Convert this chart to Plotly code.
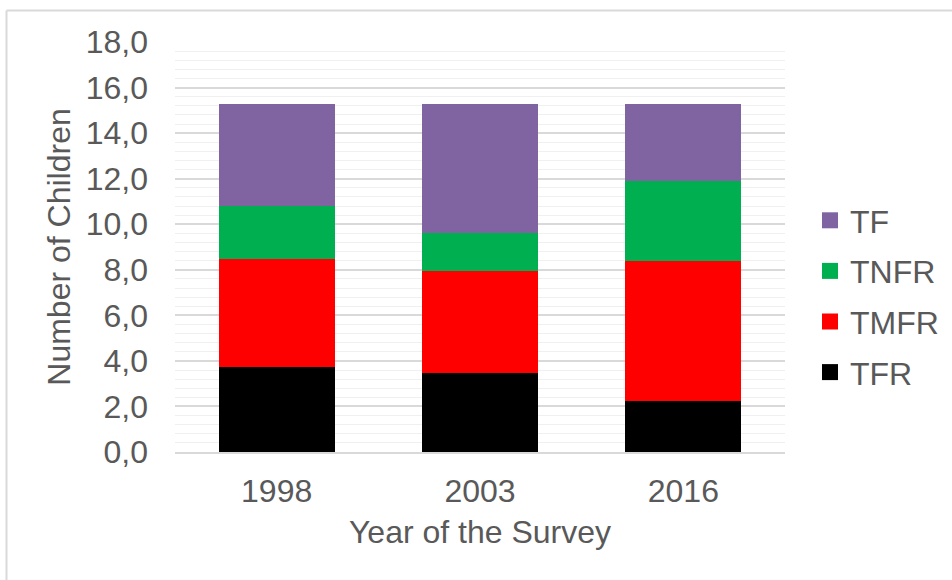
import plotly.graph_objects as go

years = ["1998", "2003", "2016"]
tfr = [3.75, 3.46, 2.26]
tmfr = [4.74, 4.49, 6.14]
tnfr = [2.29, 1.65, 3.49]
tf = [4.52, 5.70, 3.41]

series = [
    ("TFR", tfr, "#000000"),
    ("TMFR", tmfr, "#FF0000"),
    ("TNFR", tnfr, "#00B050"),
    ("TF", tf, "#8064A2"),
]

FONT = "Liberation Sans, Arial, sans-serif"
TXT = "#595959"
FS = 32

fig = go.Figure()
for name, vals, col in series:
    fig.add_trace(go.Bar(
        x=years, y=vals, name=name, showlegend=False,
        marker=dict(color=col, line=dict(width=0)),
    ))
# legend entries with larger square swatches (top-to-bottom: TF, TNFR, TMFR, TFR)
for name, vals, col in reversed(series):
    fig.add_trace(go.Scatter(
        x=[None], y=[None], mode="markers", name=name, legendgroup="lg_" + name,
        marker=dict(symbol="square", size=17, color=col),
    ))

W, H = 952, 580
L, R, T, B = 175, 167, 42, 128
pw, ph = W - L - R, H - T - B

def px(x):
    return (x - L) / pw

def py(y):
    return (H - B - y) / ph

fig.update_layout(
    width=W, height=H,
    margin=dict(l=L, r=R, t=T, b=B, autoexpand=False),
    barmode="stack",
    bargap=0.43,
    paper_bgcolor="white",
    plot_bgcolor="white",
    separators=",.",
    font=dict(family=FONT, size=FS, color=TXT),
    legend=dict(
        traceorder="grouped",
        tracegroupgap=6,
        x=px(810), xanchor="left",
        y=py(193), yanchor="top",
        font=dict(size=FS, color=TXT),
        bgcolor="rgba(0,0,0,0)",
        itemwidth=30,
    ),
    xaxis=dict(
        showgrid=False,
        showline=True, linecolor="#d9d9d9", linewidth=1.5,
        ticks="", ticklabelstandoff=10,
        title=dict(text="Year of the Survey", standoff=12, font=dict(size=FS, color=TXT)),
        tickfont=dict(size=FS, color=TXT),
    ),
    yaxis=dict(
        range=[0, 18],
        tickvals=list(range(0, 20, 2)),
        tickformat=".1f",
        showgrid=True, gridcolor="#d9d9d9", gridwidth=1.5,
        zeroline=False,
        minor=dict(dtick=0.4, tick0=0, showgrid=True, gridcolor="#f0f0f0", gridwidth=1.2),
        showline=False,
        ticks="", ticklabelstandoff=26,
        tickfont=dict(size=FS, color=TXT),
        title=dict(text="Number of Children", standoff=5, font=dict(size=FS, color=TXT)),
    ),
    shapes=[
        dict(type="line", xref="paper", yref="paper",
             x0=px(6.5), x1=px(960), y0=py(10.5), y1=py(10.5),
             line=dict(color="#d9d9d9", width=2)),
        dict(type="line", xref="paper", yref="paper",
             x0=px(6.5), x1=px(6.5), y0=py(10.5), y1=py(600),
             line=dict(color="#d9d9d9", width=2)),
    ],
)

fig.write_html(
    "out.html",
    config={"displayModeBar": False},
    post_script="document.body.style.margin='0';document.body.style.overflow='hidden';",
)
